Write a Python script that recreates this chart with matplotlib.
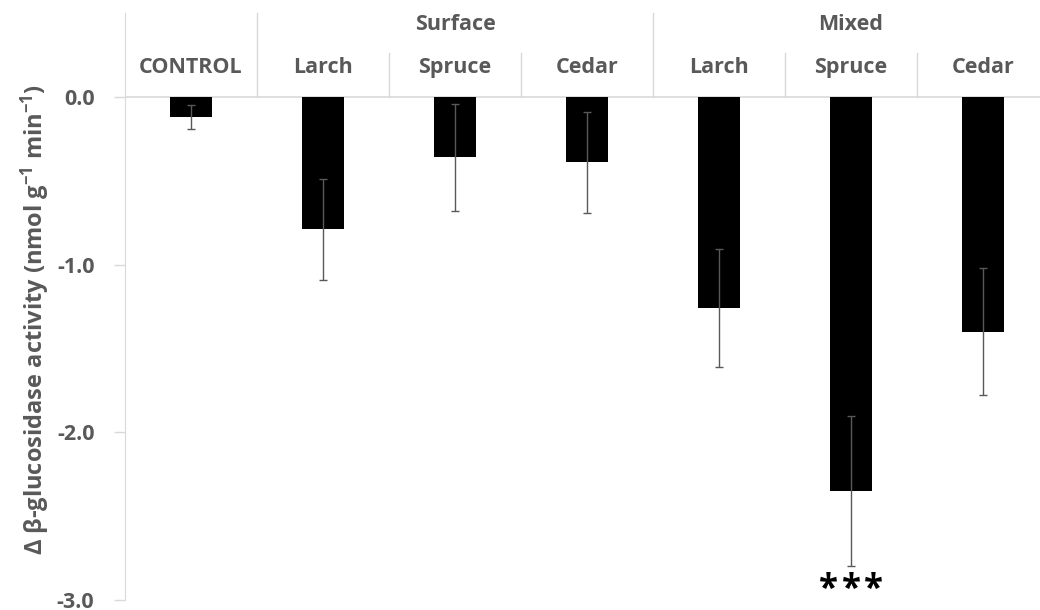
import matplotlib
matplotlib.use("Agg")
import matplotlib.pyplot as plt

categories = ["CONTROL", "Larch", "Spruce", "Cedar", "Larch", "Spruce", "Cedar"]
groups = ["Surface", "Mixed"]
group_spans = [(1, 3), (4, 6)]
values = [-0.12, -0.79, -0.36, -0.39, -1.26, -2.35, -1.40]
errors = [0.07, 0.30, 0.32, 0.30, 0.35, 0.45, 0.38]
yticks = [0.0, -1.0, -2.0, -3.0]
ytick_labels = ["0.0", "-1.0", "-2.0", "-3.0"]
signif = {5: "***"}

plt.rcParams['font.family'] = ['Open Sans', 'DejaVu Sans']
plt.rcParams['font.weight'] = 'bold'
plt.rcParams['mathtext.fontset'] = 'custom'
plt.rcParams['mathtext.rm'] = 'Open Sans:bold'
plt.rcParams['mathtext.it'] = 'Open Sans:bold'
plt.rcParams['mathtext.bf'] = 'Open Sans:bold'

gray = '#595959'
light = '#d9d9d9'

fig = plt.figure(figsize=(10.4, 6.1), dpi=100)
W, H = 1040, 610
x0, x1 = 125, 1049
ytop, ybot = 13, 600
ax = fig.add_axes([x0 / W, 1 - ybot / H, (x1 - x0) / W, (ybot - ytop) / H])

x = list(range(len(categories)))
ax.bar(x, values, width=0.32, color='black', zorder=2)
ax.errorbar(x, values, yerr=errors, fmt='none', ecolor=gray, elinewidth=1.0,
            capsize=3, capthick=1.0, zorder=3)

ax.set_xlim(-0.5, len(categories) - 0.5)
ax.set_ylim(-3.0, 0.5)
ax.set_yticks(yticks)
ax.set_yticklabels(ytick_labels, fontsize=15.5, fontweight='bold', color=gray)
ax.tick_params(axis='y', direction='out', length=8, color=light, width=1, pad=14)
ax.set_xticks([])
for s in ['top', 'right', 'bottom']:
    ax.spines[s].set_visible(False)
ax.spines['left'].set_color(light)
ax.spines['left'].set_bounds(-3.0, 0.5)
ax.axhline(0, color=light, lw=1.2, zorder=1)

# header labels
for i, c in enumerate(categories):
    ax.text(i, 0.175, c, ha='center', va='center', fontsize=15.5, fontweight='bold', color=gray)
for g, (a, b) in zip(groups, group_spans):
    ax.text((a + b) / 2, 0.43, g, ha='center', va='center', fontsize=15.5, fontweight='bold', color=gray)

# separators
inner_top = 0.26
full_top = 0.5
starts = {a for a, b in group_spans}
for i in range(1, len(categories)):
    top = full_top if i in starts else inner_top
    ax.plot([i - 0.5, i - 0.5], [0, top], color=light, lw=1, clip_on=False)
ax.plot([len(categories) - 0.5] * 2, [0, full_top], color=light, lw=1, clip_on=False)

for i, s in signif.items():
    n = len(s)
    for k, ch in enumerate(s):
        dx = (k - (n - 1) / 2) * 16  # points spacing
        ax.annotate(ch, xy=(i, values[i] - errors[i] - 0.03), xytext=(dx, 0),
                    textcoords='offset points', ha='center', va='top', fontsize=25,
                    fontweight='bold', color='black')

fig.text(35 / W, 1 - 320 / H,
         r'Δ β-glucosidase activity (nmol g$^{-1}$ min$^{-1}$)',
         rotation=90, ha='center', va='center', fontsize=17, fontweight='bold', color=gray)

fig.savefig('out.png', dpi=100)
